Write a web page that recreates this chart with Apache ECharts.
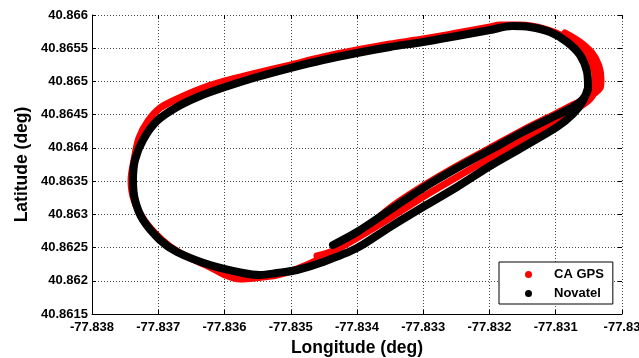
<!DOCTYPE html>
<html>
<head>
<meta charset="utf-8">
<script src="https://cdn.jsdelivr.net/npm/echarts@6/dist/echarts.min.js"></script>
<style>
html,body{margin:0;padding:0;background:#fff;}
#c{width:639px;height:358px;}
</style>
</head>
<body>
<div id="c"></div>
<script>
// ---- data ----
const seriesNames = ['CA GPS', 'Novatel'];

const caLon = [-77.834604,-77.834362,-77.834000,-77.833502,-77.833004,-77.832491,-77.831992,-77.831494,-77.830981,-77.830709,-77.830483,-77.830408,-77.830408,-77.830483,-77.830634,-77.830860,-77.831162,-77.831540,-77.831842,-77.831992,-77.832491,-77.833004,-77.833502,-77.834000,-77.834513,-77.835011,-77.835509,-77.835992,-77.836370,-77.836717,-77.836974,-77.837155,-77.837291,-77.837366,-77.837411,-77.837366,-77.837215,-77.836943,-77.836672,-77.836219,-77.835992,-77.835766,-77.835540,-77.835208,-77.834906,-77.834513,-77.834000,-77.833502,-77.833004,-77.832491,-77.831992,-77.831494,-77.830981,-77.830709,-77.830453,-77.830332,-77.830317,-77.830347,-77.830453,-77.830634,-77.830860];
const caLat = [40.862373,40.862448,40.862644,40.862945,40.863261,40.863562,40.863848,40.864119,40.864405,40.864570,40.864736,40.864901,40.865097,40.865308,40.865503,40.865669,40.865789,40.865849,40.865849,40.865819,40.865729,40.865639,40.865564,40.865473,40.865368,40.865247,40.865127,40.865007,40.864886,40.864736,40.864600,40.864405,40.864149,40.863818,40.863517,40.863216,40.862915,40.862614,40.862418,40.862207,40.862087,40.862027,40.862042,40.862087,40.862177,40.862358,40.862674,40.863095,40.863426,40.863727,40.863998,40.864269,40.864525,40.864661,40.864796,40.864901,40.865022,40.865232,40.865428,40.865594,40.865729];

const novLon = [-77.834362,-77.834000,-77.833502,-77.833004,-77.832491,-77.831992,-77.831494,-77.830981,-77.830740,-77.830589,-77.830513,-77.830528,-77.830634,-77.830830,-77.831087,-77.831389,-77.831660,-77.831992,-77.832491,-77.833004,-77.833502,-77.834000,-77.834513,-77.835011,-77.835509,-77.835992,-77.836370,-77.836717,-77.837019,-77.837230,-77.837351,-77.837381,-77.837351,-77.837230,-77.836974,-77.836717,-77.836219,-77.835721,-77.835464,-77.835208,-77.834906,-77.834513,-77.834000,-77.833502,-77.833004,-77.832491,-77.831992,-77.831494,-77.830981,-77.830740,-77.830589,-77.830513];
const novLat = [40.862538,40.862734,40.863065,40.863396,40.863697,40.863968,40.864239,40.864495,40.864615,40.864736,40.864901,40.865142,40.865398,40.865594,40.865744,40.865819,40.865834,40.865774,40.865684,40.865594,40.865518,40.865428,40.865323,40.865202,40.865067,40.864916,40.864781,40.864615,40.864405,40.864119,40.863818,40.863517,40.863216,40.862915,40.862614,40.862433,40.862237,40.862117,40.862087,40.862117,40.862162,40.862283,40.862493,40.862809,40.863110,40.863411,40.863727,40.864013,40.864314,40.864510,40.864706,40.864901];

const xTickLabels = ['-77.838','-77.837','-77.836','-77.835','-77.834','-77.833','-77.832','-77.831','-77.83'];
const yTickLabels = ['40.8615','40.862','40.8625','40.863','40.8635','40.864','40.8645','40.865','40.8655','40.866'];

// ---- chart ----
const pair = (xs, ys) => xs.map((x, i) => [x, ys[i]]);
const FONT = '"Liberation Sans", Arial, sans-serif';
const gridLine = { show: true, lineStyle: { color: '#4a4a4a', width: 1, type: [1, 2] } };

const chart = echarts.init(document.getElementById('c'), null, { renderer: 'canvas' });
chart.setOption({
  animation: false,
  backgroundColor: '#ffffff',
  grid: { left: 92, right: 17, top: 15, bottom: 44, containLabel: false, outerBoundsMode: 'none' },
  legend: {
    orient: 'vertical',
    left: 499, top: 262,
    data: [
      { name: seriesNames[0], icon: 'circle' },
      { name: seriesNames[1], icon: 'circle' }
    ],
    itemWidth: 7, itemHeight: 7, itemGap: 6,
    padding: [6, 9, 4, 26],
    backgroundColor: '#ffffff',
    borderColor: '#000000', borderWidth: 1, borderRadius: 0,
    textStyle: { fontFamily: FONT, fontWeight: 'bold', fontSize: 13, color: '#000', padding: [0, 0, 0, 17] }
  },
  xAxis: [{
    type: 'value', min: -77.838, max: -77.83, interval: 0.001,
    name: 'Longitude (deg)', nameLocation: 'middle', nameGap: 25, nameMoveOverlap: false,
    nameTextStyle: { fontFamily: FONT, fontWeight: 'bold', fontSize: 17.5, color: '#000' },
    axisLine: { show: true, onZero: false, lineStyle: { color: '#000', width: 1 } },
    axisTick: { show: true, inside: true, length: 4, lineStyle: { color: '#000' } },
    axisLabel: { margin: 7, fontFamily: FONT, fontWeight: 'bold', fontSize: 13, color: '#000',
      formatter: (v, i) => xTickLabels[i] },
    splitLine: gridLine
  }, {
    type: 'value', position: 'top', min: -77.838, max: -77.83, interval: 0.001,
    axisLine: { show: false }, axisLabel: { show: false }, splitLine: { show: false },
    axisTick: { show: true, inside: true, length: 4, lineStyle: { color: '#000' } }
  }],
  yAxis: [{
    type: 'value', min: 40.8615, max: 40.866, interval: 0.0005,
    name: 'Latitude (deg)', nameLocation: 'middle', nameGap: 61, nameRotate: 90, nameMoveOverlap: false,
    nameTextStyle: { fontFamily: FONT, fontWeight: 'bold', fontSize: 17.5, color: '#000' },
    axisLine: { show: true, onZero: false, lineStyle: { color: '#000', width: 1 } },
    axisTick: { show: true, inside: true, length: 4, lineStyle: { color: '#000' } },
    axisLabel: { margin: 4, fontFamily: FONT, fontWeight: 'bold', fontSize: 13, color: '#000',
      formatter: (v, i) => yTickLabels[i] },
    splitLine: gridLine
  }, {
    type: 'value', position: 'right', min: 40.8615, max: 40.866, interval: 0.0005,
    axisLine: { show: false }, axisLabel: { show: false }, splitLine: { show: false },
    axisTick: { show: true, inside: true, length: 4, lineStyle: { color: '#000' } }
  }],
  series: [{
    name: seriesNames[0], type: 'line', data: pair(caLon, caLat),
    smooth: 0.3, showSymbol: false, symbol: 'circle', symbolSize: 7,
    itemStyle: { color: '#ff0000' },
    lineStyle: { color: '#ff0000', width: 7, cap: 'round', join: 'round' },
    z: 2
  }, {
    name: seriesNames[1], type: 'line', data: pair(novLon, novLat),
    smooth: 0.3, showSymbol: false, symbol: 'circle', symbolSize: 7,
    itemStyle: { color: '#000000' },
    lineStyle: { color: '#000000', width: 8, cap: 'round', join: 'round' },
    z: 3
  }]
});
</script>
</body>
</html>
